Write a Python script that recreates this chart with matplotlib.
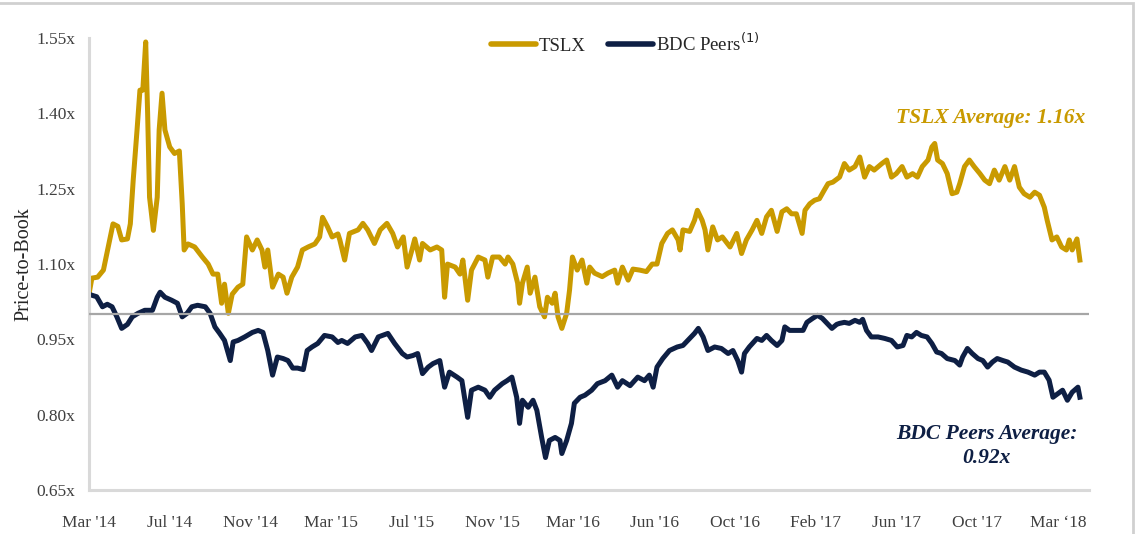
import matplotlib
matplotlib.use('Agg')
import matplotlib.pyplot as plt
from matplotlib.lines import Line2D
from matplotlib.patches import Rectangle

# trading-day index (category axis) and price-to-book multiples
tslx_day = [0, 3, 9, 15, 20, 25, 30, 34, 40, 43, 46, 50, 53, 56, 59, 61, 63, 67, 71, 73,
            76, 79, 84, 89, 94, 97, 99, 103, 110, 118, 124, 129, 134, 138, 141, 145, 149, 155, 160, 164,
            170, 175, 180, 183, 186, 191, 197, 202, 206, 211, 217, 222, 228, 235, 240, 243, 248, 253, 259, 261,
            266, 271, 280, 285, 290, 297, 303, 310, 316, 321, 327, 331, 336, 339, 344, 347, 355, 362, 367, 370,
            373, 381, 386, 389, 394, 398, 405, 412, 415, 420, 427, 433, 436, 441, 446, 448, 451, 456, 459, 464,
            469, 474, 477, 482, 485, 488, 492, 497, 500, 503, 508, 513, 518, 521, 526, 534, 540, 547, 550, 555,
            561, 566, 573, 580, 586, 591, 596, 602, 607, 613, 615, 618, 625, 630, 633, 638, 641, 644, 649, 654,
            659, 667, 674, 679, 684, 690, 695, 700, 705, 710, 716, 721, 726, 731, 736, 742, 745, 750, 755, 760,
            765, 769, 774, 779, 781, 786, 791, 797, 802, 807, 812, 817, 825, 830, 835, 840, 846, 851, 857, 862,
            867, 873, 877, 880, 883, 888, 893, 898, 903, 906, 911, 916, 921, 927, 932, 937, 942, 947, 953, 958,
            963, 968, 973, 979, 984, 989, 994, 997, 1002, 1007, 1012, 1017, 1020, 1023, 1028, 1031]
tslx_pb = [1.040, 1.072, 1.074, 1.088, 1.134, 1.180, 1.175, 1.148, 1.150, 1.180, 1.267, 1.367, 1.446, 1.446, 1.542, 1.400, 1.233, 1.167, 1.233, 1.367,
           1.440, 1.367, 1.333, 1.320, 1.325, 1.220, 1.128, 1.140, 1.134, 1.114, 1.100, 1.080, 1.080, 1.022, 1.060, 1.002, 1.040, 1.054, 1.060, 1.154,
           1.128, 1.148, 1.128, 1.094, 1.128, 1.054, 1.080, 1.074, 1.042, 1.074, 1.094, 1.128, 1.134, 1.140, 1.154, 1.193, 1.175, 1.154, 1.160, 1.148,
           1.108, 1.161, 1.168, 1.181, 1.168, 1.141, 1.168, 1.181, 1.161, 1.134, 1.154, 1.094, 1.128, 1.150, 1.108, 1.141, 1.128, 1.134, 1.128, 1.034,
           1.100, 1.094, 1.080, 1.108, 1.028, 1.088, 1.114, 1.108, 1.074, 1.114, 1.114, 1.100, 1.114, 1.100, 1.062, 1.022, 1.062, 1.094, 1.042, 1.074,
           1.015, 0.995, 1.034, 1.022, 1.042, 0.995, 0.972, 1.002, 1.048, 1.114, 1.088, 1.108, 1.062, 1.094, 1.082, 1.075, 1.082, 1.088, 1.062, 1.094,
           1.068, 1.090, 1.088, 1.085, 1.100, 1.100, 1.141, 1.161, 1.168, 1.148, 1.128, 1.168, 1.165, 1.187, 1.207, 1.187, 1.168, 1.128, 1.174, 1.148,
           1.154, 1.134, 1.161, 1.121, 1.148, 1.168, 1.187, 1.161, 1.194, 1.207, 1.165, 1.204, 1.210, 1.200, 1.200, 1.161, 1.207, 1.220, 1.227, 1.230,
           1.247, 1.260, 1.263, 1.270, 1.273, 1.300, 1.287, 1.294, 1.313, 1.273, 1.294, 1.287, 1.300, 1.307, 1.273, 1.280, 1.294, 1.273, 1.280, 1.273,
           1.294, 1.307, 1.333, 1.340, 1.307, 1.300, 1.280, 1.240, 1.243, 1.260, 1.294, 1.307, 1.294, 1.280, 1.267, 1.260, 1.287, 1.267, 1.294, 1.267,
           1.294, 1.253, 1.240, 1.233, 1.243, 1.237, 1.213, 1.187, 1.148, 1.154, 1.134, 1.128, 1.148, 1.128, 1.150, 1.108]

bdc_day = [0, 3, 8, 14, 19, 24, 29, 34, 40, 45, 51, 58, 66, 71, 74, 79, 86, 92, 97, 102,
           107, 113, 121, 126, 131, 136, 141, 147, 150, 155, 162, 170, 176, 181, 186, 191, 196, 202, 207, 212,
           217, 223, 227, 232, 238, 245, 253, 259, 263, 269, 277, 284, 290, 294, 301, 311, 318, 326, 331, 337,
           342, 347, 353, 358, 365, 370, 375, 383, 388, 394, 398, 405, 412, 417, 422, 430, 435, 440, 445, 448,
           451, 457, 462, 466, 471, 475, 479, 485, 490, 492, 497, 502, 505, 511, 516, 523, 529, 537, 544, 550,
           555, 563, 571, 578, 583, 587, 591, 597, 604, 612, 618, 625, 630, 634, 639, 644, 651, 658, 665, 670,
           675, 679, 682, 687, 695, 700, 705, 710, 716, 721, 724, 729, 736, 743, 747, 753, 758, 763, 769, 773,
           778, 781, 786, 791, 797, 802, 805, 809, 814, 821, 828, 835, 841, 847, 851, 856, 861, 866, 872, 877,
           882, 887, 893, 901, 906, 909, 914, 919, 925, 930, 935, 940, 945, 951, 956, 963, 970, 977, 984, 989,
           994, 999, 1003, 1008, 1013, 1018, 1023, 1029, 1031]
bdc_pb = [1.040, 1.038, 1.035, 1.015, 1.020, 1.015, 0.995, 0.972, 0.980, 0.995, 1.002, 1.008, 1.008, 1.034, 1.044, 1.034, 1.028, 1.022, 0.995, 1.002,
          1.015, 1.018, 1.015, 1.002, 0.975, 0.962, 0.948, 0.908, 0.945, 0.948, 0.955, 0.964, 0.968, 0.964, 0.928, 0.879, 0.915, 0.912, 0.908, 0.893,
          0.893, 0.890, 0.928, 0.935, 0.942, 0.958, 0.955, 0.944, 0.948, 0.942, 0.955, 0.958, 0.942, 0.928, 0.955, 0.962, 0.942, 0.922, 0.915, 0.918,
          0.922, 0.882, 0.895, 0.902, 0.908, 0.855, 0.885, 0.875, 0.868, 0.795, 0.849, 0.855, 0.849, 0.835, 0.849, 0.862, 0.868, 0.875, 0.835, 0.783,
          0.829, 0.815, 0.829, 0.809, 0.755, 0.715, 0.749, 0.755, 0.749, 0.723, 0.749, 0.783, 0.823, 0.835, 0.839, 0.849, 0.862, 0.868, 0.879, 0.855,
          0.868, 0.858, 0.875, 0.868, 0.879, 0.855, 0.895, 0.912, 0.928, 0.935, 0.938, 0.952, 0.962, 0.972, 0.955, 0.928, 0.935, 0.932, 0.922, 0.928,
          0.908, 0.885, 0.922, 0.935, 0.952, 0.948, 0.958, 0.948, 0.938, 0.948, 0.975, 0.968, 0.968, 0.968, 0.984, 0.992, 0.998, 0.992, 0.980, 0.972,
          0.980, 0.982, 0.984, 0.982, 0.988, 0.984, 0.990, 0.968, 0.955, 0.955, 0.952, 0.948, 0.935, 0.938, 0.958, 0.955, 0.964, 0.958, 0.955, 0.942,
          0.925, 0.922, 0.912, 0.908, 0.899, 0.915, 0.932, 0.922, 0.912, 0.908, 0.895, 0.905, 0.912, 0.908, 0.905, 0.895, 0.889, 0.885, 0.879, 0.885,
          0.885, 0.869, 0.835, 0.842, 0.849, 0.829, 0.845, 0.855, 0.835]

tick_days = [0, 84, 168, 252, 336, 420, 504, 588, 672, 756, 840, 924, 1008]
tick_labels = ["Mar '14", "Jul '14", "Nov '14", "Mar '15", "Jul '15", "Nov '15", "Mar '16",
               "Jun '16", "Oct '16", "Feb '17", "Jun '17", "Oct '17", "Mar \u201818"]
y_ticks = [0.65, 0.80, 0.95, 1.10, 1.25, 1.40, 1.55]
par_line = 1.0

GOLD = '#C99A00'
NAVY = '#0E1F44'
plt.rcParams['font.family'] = ['Liberation Serif', 'DejaVu Serif']

fig = plt.figure(figsize=(11.41, 5.34), dpi=100)
ax = fig.add_axes([0.078, 0.082, 0.876, 0.847])

ax.plot(tslx_day, tslx_pb, color=GOLD, lw=3.6, solid_joinstyle='round', zorder=2)
ax.plot(bdc_day, bdc_pb, color=NAVY, lw=3.6, solid_joinstyle='round', zorder=2)
ax.axhline(par_line, color='#a6a6a6', lw=1.6, zorder=3)

ax.set_xlim(0, 1040)
ax.set_ylim(0.65, 1.55)
ax.set_xticks(tick_days)
ax.set_xticklabels(tick_labels)
ax.set_yticks(y_ticks)
ax.set_yticklabels(['%.2fx' % v for v in y_ticks])
ax.tick_params(length=0, labelsize=12.5, colors='#404040', pad=10)
ax.tick_params(axis='x', pad=18)
for s in ['top', 'right']:
    ax.spines[s].set_visible(False)
for s in ['left', 'bottom']:
    ax.spines[s].set_color('#d9d9d9')
    ax.spines[s].set_linewidth(2.2)
ax.set_ylabel('Price-to-Book', fontsize=14.5, color='#262626', labelpad=2)

handles = [Line2D([], [], color=GOLD, lw=4, solid_capstyle='round'),
           Line2D([], [], color=NAVY, lw=4, solid_capstyle='round')]
fig.legend(handles, ['TSLX', 'BDC Peers$^{(1)}$'], loc='center', bbox_to_anchor=(0.548, 0.918),
           ncol=2, frameon=False, fontsize=13.5, handlelength=2.4, handletextpad=0.15,
           columnspacing=1.2, labelcolor='#262626')

ax.text(0.997, 0.823, 'TSLX Average: 1.16x', transform=ax.transAxes, ha='right', va='center',
        fontsize=15.5, style='italic', weight='bold', color=GOLD)
ax.text(0.898, 0.098, 'BDC Peers Average:\n0.92x', transform=ax.transAxes, ha='center', va='center',
        fontsize=15.5, style='italic', weight='bold', color=NAVY, linespacing=1.25)

fig.patches.append(Rectangle((-0.01, -0.01), 1.003, 1.004, transform=fig.transFigure,
                             fill=False, edgecolor='#d0d0d0', lw=2))

fig.savefig('out.png', dpi=100)
